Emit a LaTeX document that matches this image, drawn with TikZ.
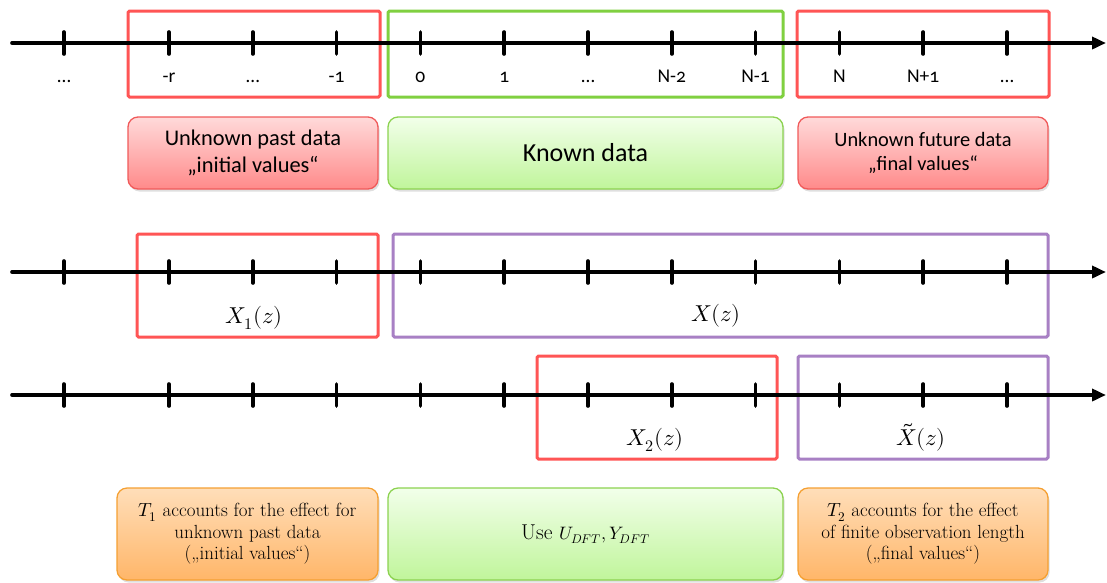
\documentclass[tikz,border=0pt]{standalone}
\usepackage{fontspec}
\usepackage{unicode-math}
\setmathfont{Latin Modern Math}
\newfontfamily\calib[Numbers=OldStyle]{Carlito}
\usetikzlibrary{arrows.meta,shadows}

\definecolor{framered}{RGB}{255,85,85}
\definecolor{framegreen}{RGB}{128,208,64}
\definecolor{framepurple}{RGB}{168,128,196}
\definecolor{redtop}{RGB}{255,218,218}
\definecolor{redbot}{RGB}{255,138,138}
\definecolor{redline}{RGB}{240,90,90}
\definecolor{greentop}{RGB}{242,255,234}
\definecolor{greenbot}{RGB}{192,245,155}
\definecolor{greenline}{RGB}{140,210,80}
\definecolor{orangetop}{RGB}{255,222,185}
\definecolor{orangebot}{RGB}{255,182,105}
\definecolor{orangeline}{RGB}{245,160,50}

\begin{document}
\begin{tikzpicture}[x=1pt,y=-1pt,
  axisline/.style={line width=3.6pt,line cap=round,
    -{Triangle[length=14pt,width=12pt]}},
  tickmark/.style={line width=3.6pt,line cap=round},
  frame/.style={draw,line width=3pt,rounded corners=1.5pt,inner sep=0pt},
  panel/.style={draw,line width=1.3pt,rounded corners=10pt,inner sep=0pt,
    align=center,drop shadow={opacity=0.25,shadow xshift=1.5pt,shadow yshift=-2.5pt}},
  redpanel/.style={panel,draw=redline,top color=redtop,bottom color=redbot},
  greenpanel/.style={panel,draw=greenline,top color=greentop,bottom color=greenbot},
  orangepanel/.style={panel,draw=orangeline,top color=orangetop,bottom color=orangebot},
  ticklabel/.style={font=\calib\fontsize{19.5}{22}\selectfont},
  zlabel/.style={font=\fontsize{23}{26}\selectfont},
]
\useasboundingbox (0,0) rectangle (1107,582);

% frames around the index ranges (drawn first, axes on top)
\node[frame,draw=framered,minimum width=252,minimum height=86] (pastframe) at (254,54) {};
\node[frame,draw=framegreen,minimum width=395,minimum height=86] (knownframe) at (585.5,54) {};
\node[frame,draw=framered,minimum width=252,minimum height=86] (futureframe) at (923,54) {};

\node[frame,draw=framered,minimum width=241,minimum height=103] (xoneframe) at (257.5,285.5) {};
\node[frame,draw=framepurple,minimum width=655,minimum height=103] (xframe) at (720.5,285.5) {};

\node[frame,draw=framered,minimum width=240,minimum height=103] (xtwoframe) at (657,407.5) {};
\node[frame,draw=framepurple,minimum width=250,minimum height=103] (xtildeframe) at (923,407.5) {};

% three time axes with tick marks
\foreach \yy/\nm in {43/a,272/b,395/c}{
  \coordinate (\nm start) at (12,\yy);
  \coordinate (\nm end) at (1106,\yy);
  \draw[axisline] (\nm start) -- (\nm end);
  \foreach \xx in {64,169,252.8,336.6,420.4,504.2,588,671.8,755.6,839.4,923.2,1007}{
    \draw[tickmark] (\xx,\yy-11) -- (\xx,\yy+11);
  }
}

% index labels below the first axis
\foreach \xx/\lab/\nm in {64/\dots/l0,169/-r/l1,252.8/\dots/l2,336.6/-1/l3,
    420.4/0/l4,504.2/1/l5,588/\dots/l6,671.8/N-2/l7,755.6/N-1/l8,
    839.4/N/l9,923.2/N+1/l10,1007/\dots/l11}{
  \node[ticklabel,anchor=base] (\nm) at (\xx,82) {\lab};
}

% transforms attached to the ranges
\node[zlabel] (xone) at (254,318) {$X_1(z)$};
\node[zlabel] (xall) at (716,316) {$X(z)$};
\node[zlabel] (xtwo) at (655,440) {$X_2(z)$};
\node[zlabel] (xtilde) at (921,437) {$\tilde{X}(z)$};

% description panels
\node[redpanel,minimum width=250,minimum height=72,
  font=\calib\fontsize{22.4}{27}\selectfont] (pastdesc) at (253,153)
  {Unknown past data\\„initial values“};
\node[greenpanel,minimum width=395,minimum height=72,
  font=\calib\fontsize{26}{30}\selectfont] (knowndesc) at (585.5,153)
  {Known data};
\node[redpanel,minimum width=250,minimum height=72,
  font=\calib\fontsize{20.4}{24}\selectfont] (futuredesc) at (923,153)
  {Unknown future data\\„final values“};

\node[orangepanel,minimum width=261,minimum height=92,
  font=\fontsize{19}{21.5}\selectfont] (tonedesc) at (247.5,534)
  {$T_1$ accounts for the effect for\\unknown past data\\(„initial values“)};
\node[greenpanel,minimum width=395,minimum height=92] (usedesc) at (585.5,534)
  {{\fontsize{21.5}{24}\selectfont Use\ }{\fontsize{18}{21}\selectfont $U_{DFT}, Y_{DFT}$}};
\node[orangepanel,minimum width=250,minimum height=92,
  font=\fontsize{19}{21.5}\selectfont] (ttwodesc) at (923,534)
  {$T_2$ accounts for the effect\\of finite observation length\\(„final values“)};
\end{tikzpicture}
\end{document}
